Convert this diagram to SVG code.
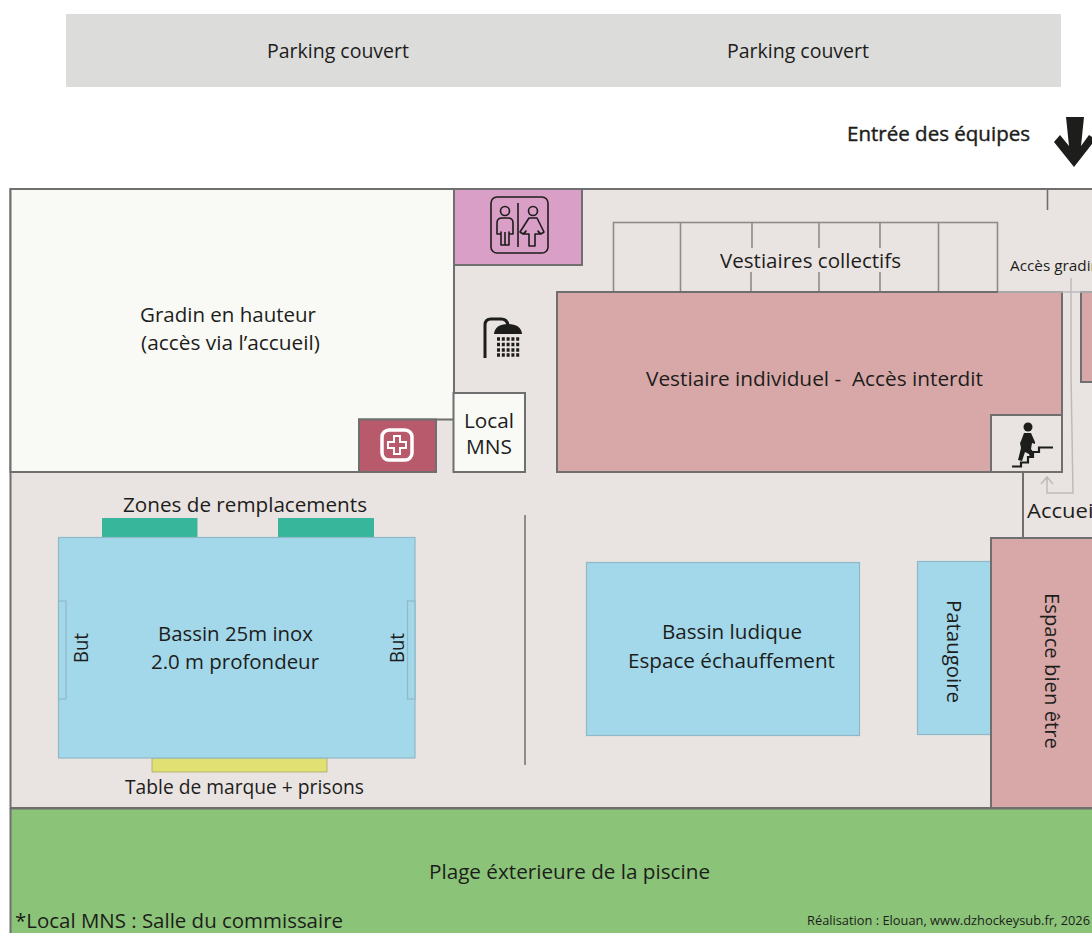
<svg xmlns="http://www.w3.org/2000/svg" width="1092" height="933" viewBox="0 0 1092 933">
<style>
text{font-family:"Open Sans","Noto Sans","Liberation Sans",sans-serif;font-size:20px;fill:#1d1d1b}
.w{stroke:#6f6f6f;stroke-width:2}
.l{stroke:#8f8b8b;stroke-width:1.600;fill:none}
.p{fill:#a3d7ea;stroke:#8fb9c7;stroke-width:1.200}
.r{fill:#d8a8a8;stroke:#6f6f6f;stroke-width:2}
.i{fill:none;stroke:#1d1d1b;stroke-width:1.600;stroke-linejoin:round}
.c{fill:#e9e4e2}
</style>
<rect width="1092" height="933" fill="#fff"/>
<g id="parking"><rect x="66" y="14" width="995" height="73" fill="#dcdcdb"/>
<text x="267" y="58" textLength="142" lengthAdjust="spacingAndGlyphs">Parking couvert</text>
<text x="727" y="58" textLength="142" lengthAdjust="spacingAndGlyphs">Parking couvert</text></g>
<g id="entree"><text x="847" y="141" textLength="183" lengthAdjust="spacingAndGlyphs" style="stroke:#1d1d1b;stroke-width:.4">Entrée des équipes</text>
<polygon points="1066,117 1084,117 1081,146 1089,135 1092,137 1092,144 1074,167 1054,142 1060,135 1069,146" fill="#1d1d1b"/></g>
<g id="batiment"><rect x="10.500" y="189" width="1083" height="619" class="c w"/></g>
<g id="plage"><rect x="10.500" y="809" width="1083" height="126" fill="#8bc478"/><path d="M10.500 808V933" class="w"/><path d="M10 808.500H1092" class="w"/>
<text x="429" y="879" textLength="281" lengthAdjust="spacingAndGlyphs">Plage éxterieure de la piscine</text>
<text x="15" y="928" textLength="328" lengthAdjust="spacingAndGlyphs">*Local MNS : Salle du commissaire</text>
<text x="807" y="925" textLength="283" lengthAdjust="spacingAndGlyphs" style="font-size:13px">Réalisation : Elouan, www.dzhockeysub.fr, 2026</text></g>
<g id="gradin"><path d="M10.500 189H454V419.500H359V472H10.500Z" fill="#f9faf6" class="w"/>
<text x="140" y="322" textLength="176" lengthAdjust="spacingAndGlyphs">Gradin en hauteur</text>
<text x="141" y="350" textLength="179" lengthAdjust="spacingAndGlyphs">(accès via l’accueil)</text></g>
<g id="infirmerie"><rect x="359" y="419.500" width="77" height="52.500" fill="#b85a6c" class="w"/>
<rect x="382" y="430" width="30" height="30" rx="7" fill="none" stroke="#fff" stroke-width="3.500"/>
<path d="M394 436h6v6h6v6h-6v6h-6v-6h-6v-6h6z" fill="none" stroke="#fff" stroke-width="2"/></g>
<g id="toilettes"><rect x="454" y="189" width="128" height="76" fill="#d99fc7" class="w"/>
<rect x="491" y="197" width="57" height="56" rx="6" class="i"/>
<path d="M518 203V247" class="i"/>
<circle cx="505" cy="211" r="4.500" class="i"/>
<path d="M497 234V223q0-5 5-5h6q5 0 5 5v11l-4 0v-2v13h-8v-13v2z" class="i"/>
<path d="M505 232V245" class="i"/>
<circle cx="533" cy="211" r="4.500" class="i"/>
<path d="M529 218h8l7 14-3 2-3-3 2 3h-5v12h-6v-12h-5l2-3-3 3-3-2z" class="i"/></g>
<g id="douche"><path d="M485 358V325q0-6 6-6h10q6 0 7 6" fill="none" stroke="#1d1d1b" stroke-width="3"/>
<path d="M494 334q1-10 14-10t14 10z" fill="#1d1d1b"/>
<path d="M497 339H521M497 344.500H521M497 350H521M497 355H521" stroke="#1d1d1b" stroke-width="3.500" stroke-dasharray="3 1.800"/></g>
<g id="local-mns"><rect x="453.500" y="393" width="71.500" height="79" fill="#f9faf6" class="w"/>
<text x="464" y="428" textLength="50" lengthAdjust="spacingAndGlyphs">Local</text>
<text x="466" y="454" textLength="46" lengthAdjust="spacingAndGlyphs">MNS</text></g>
<g id="vestiaires-collectifs"><rect x="613.500" y="222.500" width="384" height="69.500" class="c l"/>
<path d="M680.500 222V292M752 222V248M751 272V292M819 222V248M819 272V292M880 222V248M880 272V292M938.500 222V292" class="l"/>
<text x="720" y="268" textLength="181" lengthAdjust="spacingAndGlyphs">Vestiaires collectifs</text></g>
<g id="vestiaire-individuel"><rect x="557" y="292" width="505" height="180" class="r"/>
<text x="646" y="386" textLength="337" lengthAdjust="spacingAndGlyphs" xml:space="preserve">Vestiaire individuel -  Accès interdit</text></g>
<g id="vestiaire-droit"><rect x="1081" y="292" width="14" height="90" class="r"/></g>
<g id="escalier"><rect x="991" y="415" width="71" height="57" class="c w"/>
<circle cx="1028" cy="427" r="4.500" fill="#1d1d1b"/>
<path d="M1021 441l3-8h7l4 9v2l-3-1-1 6 3 4-1 5-3-1-1-3-4-2-3 9-4-1 3-12-1-5z" fill="#1d1d1b"/>
<path d="M1012 466.500h9v-4h7v-5.500h5v-5h6v-4.500h14" fill="none" stroke="#1d1d1b" stroke-width="2.200"/></g>
<g id="acces-gradin"><text x="1010" y="271" textLength="90" lengthAdjust="spacingAndGlyphs" style="font-size:14px">Accès gradin</text></g>
<g id="accueil"><text x="1027" y="518" textLength="72" lengthAdjust="spacingAndGlyphs">Accueil</text></g>
<g id="connecteurs">
<path d="M998 292H1092" stroke="#bdbaba" stroke-width="1.500" fill="none"/>
<path d="M1047.500 189V210" class="l" style="stroke:#6f6f6f"/>
<path d="M1023 472V538" class="w"/>
<path d="M525 515V765" class="w" style="stroke-width:1.500"/>
<path d="M1071 278V375L1073 493H1047V478M1041 484L1047 477L1053 484" fill="none" stroke="#bdbaba" stroke-width="1.500"/>
</g>
<g id="bassin-25m"><rect x="102" y="518" width="95.500" height="19" fill="#38b69c"/>
<rect x="278" y="518" width="96" height="19" fill="#38b69c"/>
<rect x="152" y="758" width="175" height="14" fill="#e1e073" stroke="#a9a86a" stroke-width=".8"/>
<rect x="58.500" y="537.500" width="356.500" height="220.500" class="p"/>
<rect x="58.500" y="601" width="7.500" height="98" class="p"/>
<rect x="407.500" y="601" width="7.500" height="98" class="p"/>
<text x="123" y="512" textLength="244" lengthAdjust="spacingAndGlyphs">Zones de remplacements</text>
<text x="125" y="794" textLength="239" lengthAdjust="spacingAndGlyphs">Table de marque + prisons</text>
<text x="158" y="641" textLength="155" lengthAdjust="spacingAndGlyphs">Bassin 25m inox</text>
<text x="151" y="669" textLength="168" lengthAdjust="spacingAndGlyphs">2.0 m profondeur</text>
<text transform="translate(88 663) rotate(-90)" textLength="30" lengthAdjust="spacingAndGlyphs">But</text>
<text transform="translate(404 663) rotate(-90)" textLength="30" lengthAdjust="spacingAndGlyphs">But</text></g>
<g id="bassin-ludique"><rect x="586.500" y="562.500" width="273" height="173" class="p"/>
<text x="662" y="639" textLength="140" lengthAdjust="spacingAndGlyphs">Bassin ludique</text>
<text x="628" y="668" textLength="207" lengthAdjust="spacingAndGlyphs">Espace échauffement</text></g>
<g id="pataugoire"><rect x="917.500" y="561.500" width="73.500" height="173" class="p"/>
<text transform="translate(947 600) rotate(90)" textLength="103" lengthAdjust="spacingAndGlyphs">Pataugoire</text></g>
<g id="bien-etre"><rect x="991" y="538" width="104" height="270" class="r"/>
<text transform="translate(1045 593) rotate(90)" textLength="156" lengthAdjust="spacingAndGlyphs">Espace bien être</text></g>
</svg>
